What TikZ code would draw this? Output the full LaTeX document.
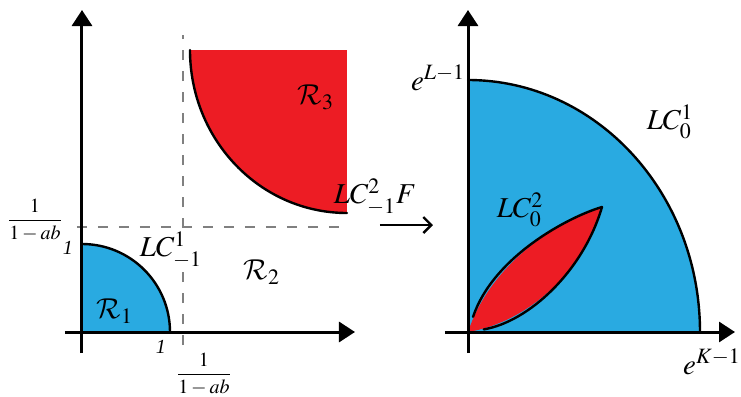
\documentclass[tikz,border=0pt]{standalone}
\usepackage{amsmath}
\usepackage{mathptmx}
\usepackage{fontspec}
\setmainfont{Liberation Serif}
\DeclareMathAlphabet{\mathcal}{OMS}{cmsy}{m}{n}
\usetikzlibrary{arrows.meta}
\definecolor{azzurro}{RGB}{41,170,225}
\definecolor{rosso}{RGB}{237,28,36}
\newcommand{\giu}{\rule{0pt}{8pt}}
\begin{document}
\begin{tikzpicture}[x=0.5pt,y=0.5pt,
			asse/.style={line width=1.5pt, black, -{Triangle[width=10pt,length=8pt]}},
			bordo/.style={line width=1.2pt, line cap=round, black},
			guida/.style={gray, line width=0.6pt, dash pattern=on 5pt off 5.5pt},
			etic/.style={font=\Large, inner sep=1pt},
			num/.style={font=\normalsize, inner sep=1pt},
			]
			\useasboundingbox (-82,-65) rectangle (659,332);
			\def\ru{88}
			\def\rx{232}
			\def\ry{252}
			
			%% ── regioni nel piano (x,y) ────────────────────────────
			\begin{scope}
				\fill[azzurro](0,0)--(\ru,0) arc[start angle=0,end angle=90,radius=\ru]--cycle;
				\draw[bordo](\ru,0) arc[start angle=0,end angle=90,radius=\ru];
				\fill[rosso](108,282)--(265,282)--(265,119)
					arc[start angle=270,end angle=180,x radius=157,y radius=163]--cycle;
				\draw[bordo](265,119) arc[start angle=270,end angle=180,x radius=157,y radius=163];
				\draw[guida](101,-13)--(101,70);
				\draw[guida](101,104)--(101,297);
				\draw[guida](-5,105)--(263,105);
				\draw[asse](-17,0)--(273,0);
				\draw[asse](0,-21)--(0,322);
				\node[num] (unox) at (79,-15) {\textit{1}};
				\node[num] (unoy) at (-14,84) {\textit{1}};
				\node[num] (frx) at (122,-42) {$\dfrac{1}{1-ab}$};
				\node[num] (fry) at (-47,112) {$\dfrac{1}{1-ab}$};
				\node[etic] (erre1) at (33,21) {$\mathcal{R}_1$};
				\node[etic] (erre2) at (180,60) {$\mathcal{R}_2$};
				\node[etic] (erre3) at (234,235) {$\mathcal{R}_3$};
				\node[etic] (lcuno) at (89,82) {$LC^{1}_{\giu-1}$};
				\node[etic] (lcdue) at (293,135) {$LC^{2}_{\giu-1}F$};
				\coordinate (da) at (298,107);
				\coordinate (a) at (351,107);
			\end{scope}
			\draw[line width=1.2pt,-{Straight Barb[length=4pt,width=8pt]}](da)--(a);
			
			%% ── immagine nel piano (u,v) ───────────────────────────
			\begin{scope}[shift={(386,0)}]
				\fill[azzurro](0,0)--(\rx,0) arc[start angle=0,end angle=90,x radius=\rx,y radius=\ry]--cycle;
				\draw[bordo](\rx,0) arc[start angle=0,end angle=90,x radius=\rx,y radius=\ry];
				\fill[rosso](0,0) .. controls (25,75) and (100,115) .. (134,125)
					.. controls (115,60) and (60,10) .. (0,0)--cycle;
				\draw[bordo,shorten <=8pt](0,0) .. controls (25,75) and (100,115) .. (134,125);
				\draw[bordo,shorten <=8pt](0,0) .. controls (60,10) and (115,60) .. (134,125);
				\draw[asse](-23,0)--(267,0);
				\draw[asse](0,-21)--(0,322);
				\node[etic] (eL) at (-30,254) {$e^{L-1}$};
				\node[etic] (eK) at (244,-30) {$e^{K-1}$};
				\node[etic] (lc10) at (202,210) {$LC^1_0$};
				\node[etic] (lc20) at (52,122) {$LC^2_0$};
			\end{scope}
			
\end{tikzpicture}
\end{document}
